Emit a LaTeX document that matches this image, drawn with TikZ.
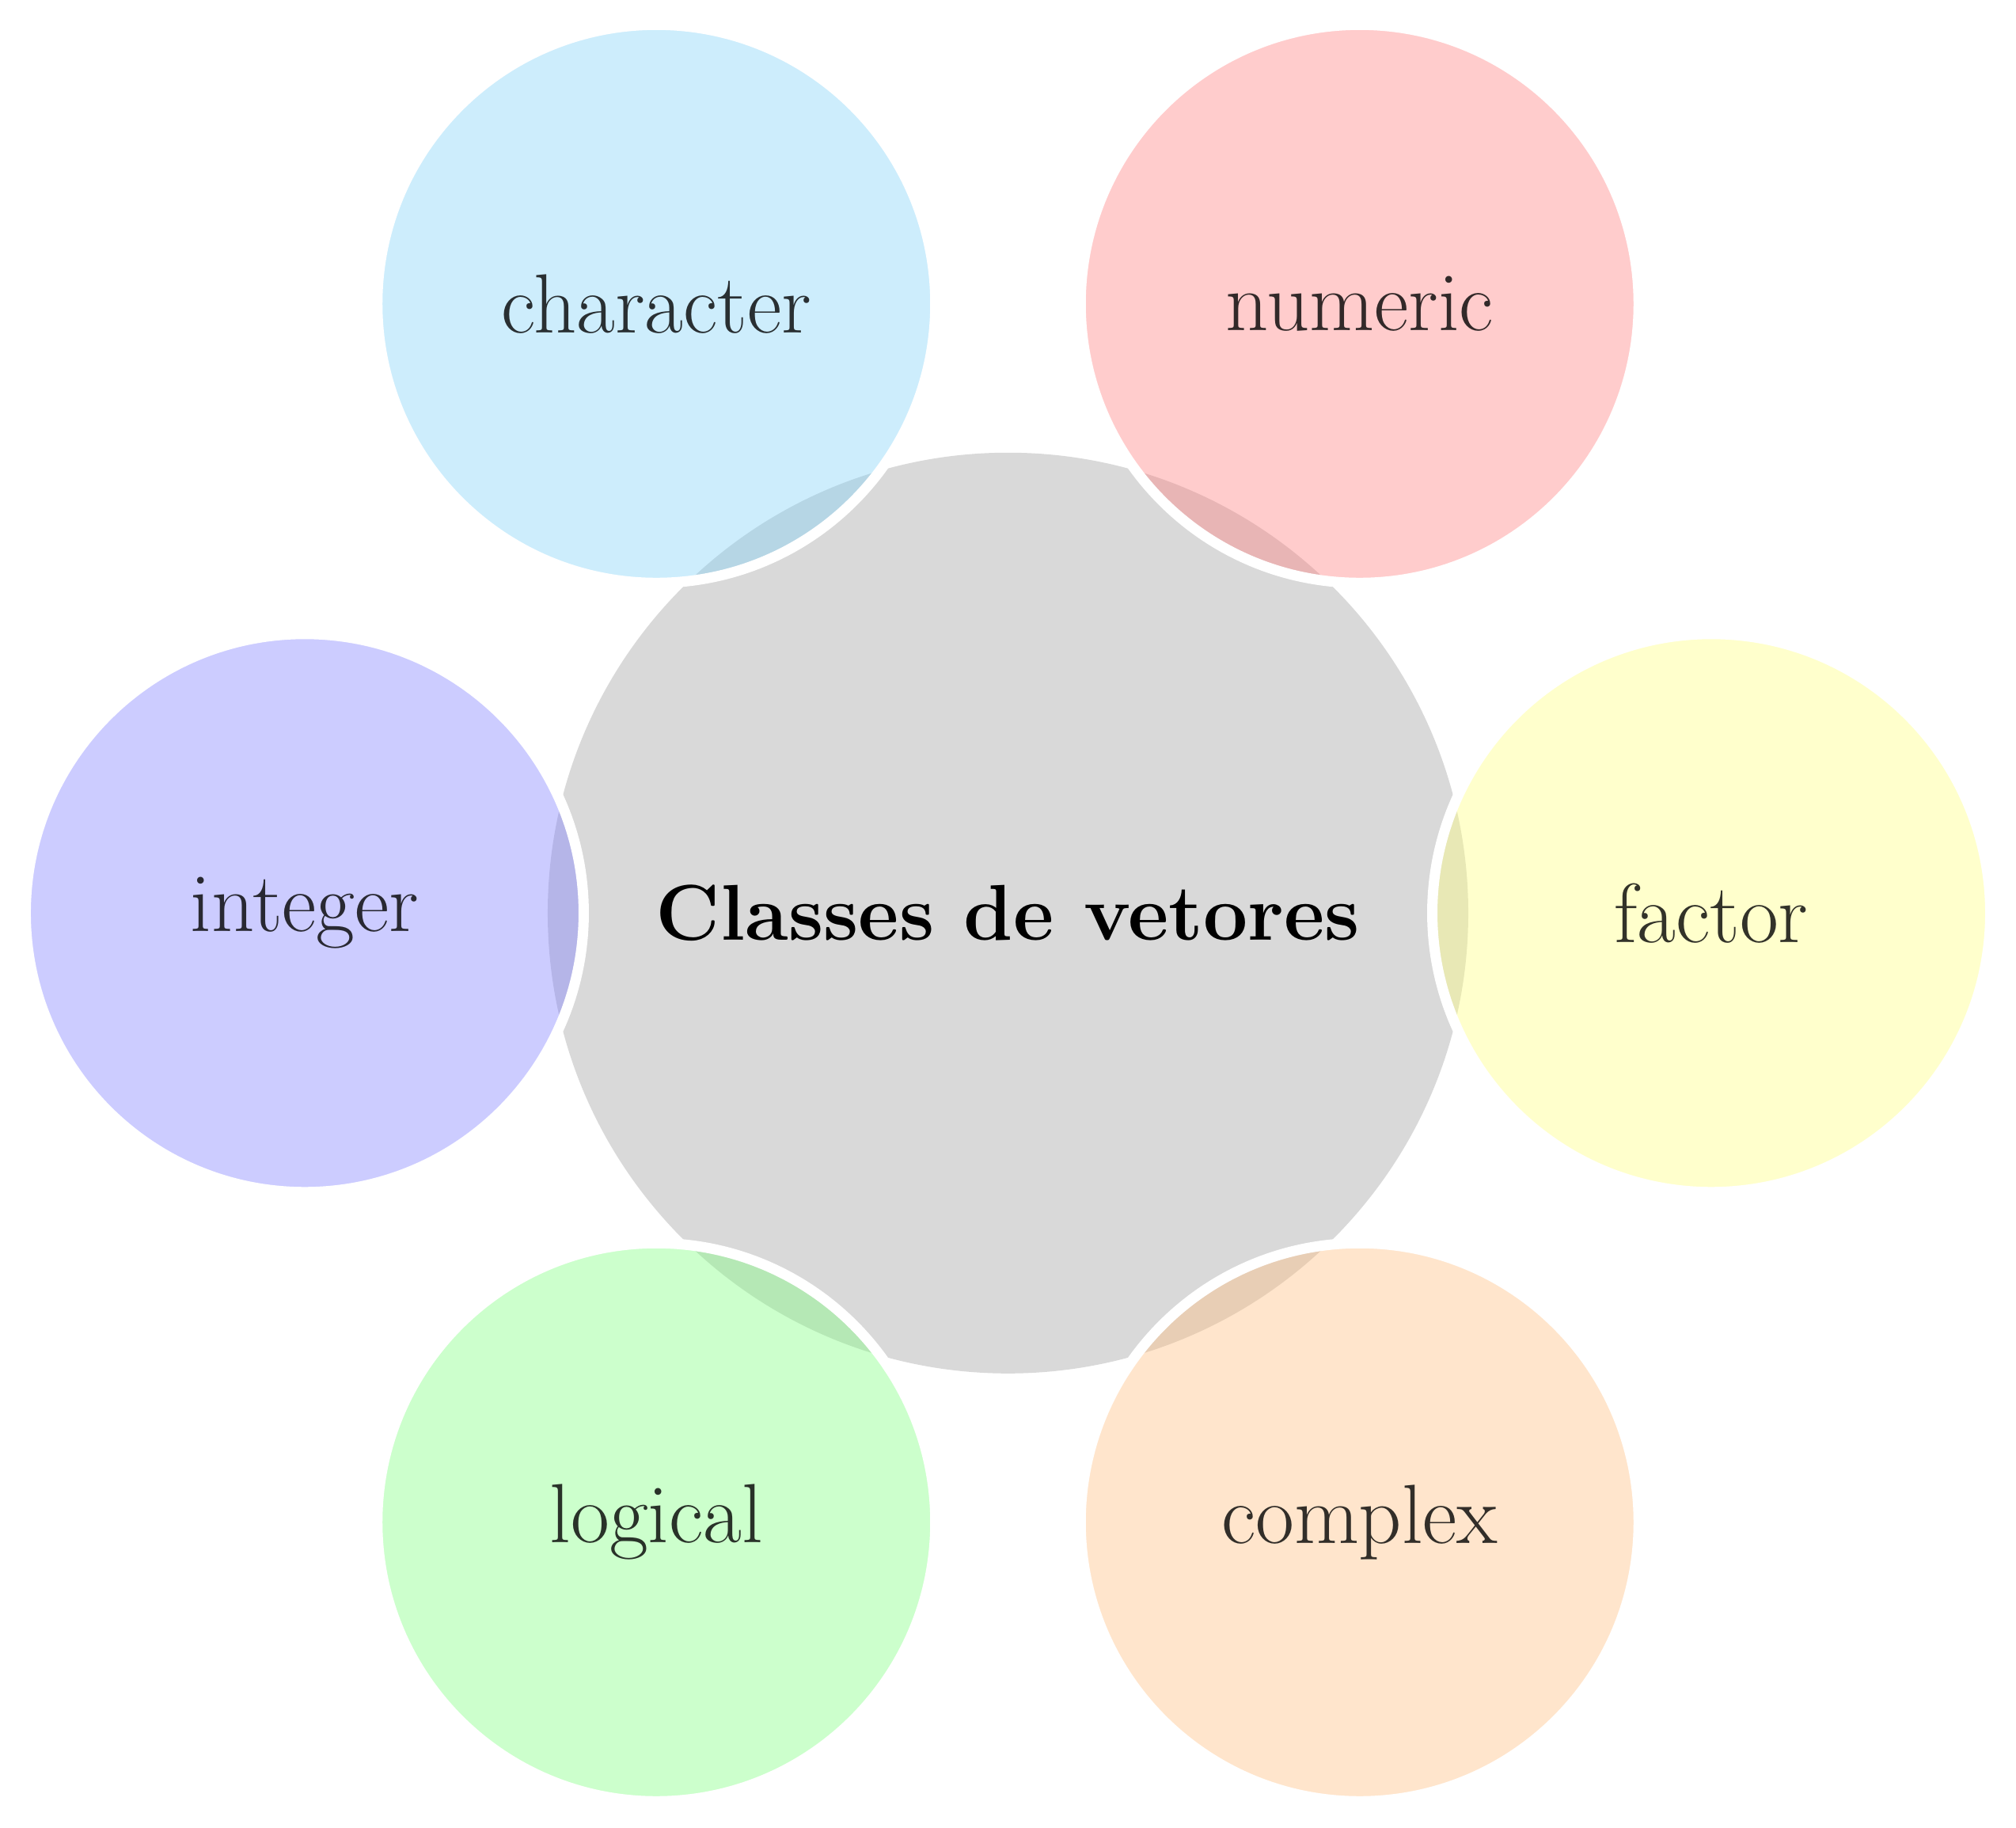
\documentclass[tikz,border=0pt]{standalone}
\usepackage{xcolor}
\usepackage{tikz}
\usetikzlibrary{positioning}
\definecolor{hub}{gray}{0.85}
\definecolor{charcol}{RGB}{130,210,248}
\definecolor{numcol}{RGB}{255,128,128}
\definecolor{intcol}{RGB}{128,128,255}
\definecolor{faccol}{RGB}{255,255,128}
\definecolor{logcol}{RGB}{128,255,128}
\definecolor{cplxcol}{RGB}{255,191,128}
\tikzset{
  center/.style={circle, fill=hub, minimum size=7.16cm, inner sep=0pt,
                 font=\fontsize{17.5pt}{21pt}\selectfont\bfseries},
  bubble/.style={circle, fill=#1, fill opacity=0.4, text opacity=0.8,
                 draw=white, draw opacity=1, line width=0.08cm,
                 minimum size=4.34cm, inner sep=0pt,
                 font=\fontsize{18.6pt}{22pt}\selectfont},
}

\begin{document}
\begin{tikzpicture}
  \useasboundingbox (-7.84,-7.11) rectangle (7.84,7.10);
  \node[center] (classes) at (0,0) {Classes de vetores};

  % outer bubbles, counter-clockwise from the right
  \node[bubble=faccol] (factor) at (0:5.47) {factor};
  \node[bubble=numcol] (numeric) at (60:5.47) {numeric};
  \node[bubble=charcol] (character) at (120:5.47) {character};
  \node[bubble=intcol] (integer) at (180:5.47) {integer};
  \node[bubble=logcol] (logical) at (240:5.47) {logical};
  \node[bubble=cplxcol] (complex) at (300:5.47) {complex};
\end{tikzpicture}
\end{document}
